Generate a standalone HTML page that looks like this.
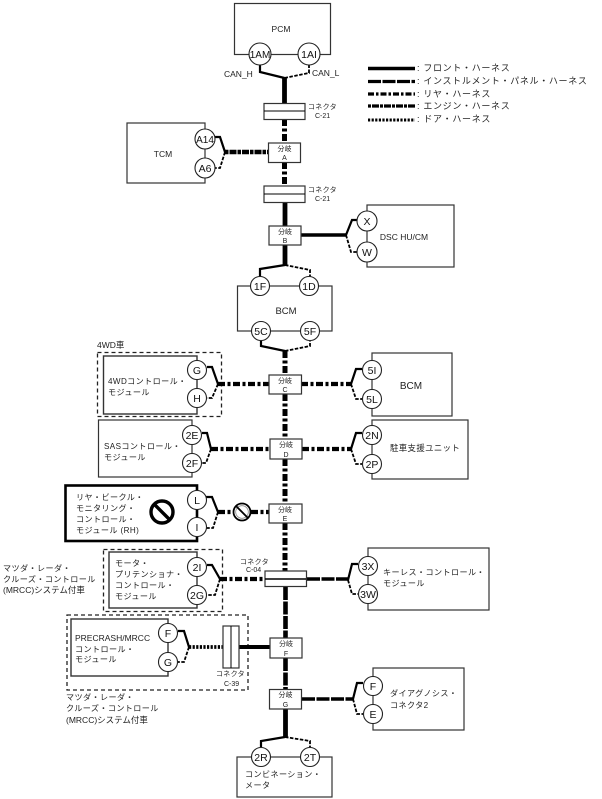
<!DOCTYPE html>
<html><head><meta charset="utf-8"><style>
html,body{margin:0;padding:0;background:#fff}
svg{display:block}
text{font-family:"Liberation Sans","Noto Sans CJK JP",sans-serif;fill:#222;font-size:8.5px}
.m{text-anchor:middle}
.s{font-size:7px}
.t{font-size:8.1px;letter-spacing:.4px}
.l{font-size:9px;letter-spacing:.67px}
.c{font-size:10.5px;text-anchor:middle;fill:#111}
rect{fill:none;stroke:#333;stroke-width:1.2}
rect.b{fill:#fff}
circle{fill:#fff;stroke:#222;stroke-width:1.1}
path,line{fill:none;stroke:#000}
.fr{stroke-width:2.2}
.da{stroke-width:1.8;stroke-dasharray:3.5 1.5}
.T{stroke-width:4.8}
.I{stroke-width:4.6;stroke-dasharray:13 1.5}
.R{stroke-width:5;stroke-dasharray:7 2.5 3 2.5}
.E{stroke-width:4.6;stroke-dasharray:3.5 1 7 1}
.D{stroke-width:3.8;stroke-dasharray:2.2 1.4}
.dash{stroke:#222;stroke-width:1.3;stroke-dasharray:4 3;fill:none}
</style></head><body>
<svg width="602" height="799" viewBox="0 0 602 799" xmlns="http://www.w3.org/2000/svg">
<!-- boxes -->
<rect x="234.5" y="3.5" width="96" height="51"/>
<rect x="127" y="123" width="78" height="60"/>
<rect x="367" y="205" width="87" height="62"/>
<rect x="237.5" y="286" width="94.5" height="45"/>
<rect class="dash" x="97.5" y="352.5" width="124" height="64"/>
<rect x="103.5" y="356" width="93.5" height="58" style="stroke-width:1.4"/>
<rect x="372" y="353" width="80" height="63"/>
<rect x="98.5" y="420" width="93.5" height="57"/>
<rect x="372" y="420" width="96" height="59"/>
<rect x="65.5" y="485.5" width="131.5" height="55.5" style="stroke:#000;stroke-width:2.6"/>
<rect class="dash" x="103.5" y="549.5" width="119" height="62"/>
<rect x="109" y="552" width="88" height="56" style="stroke-width:1.4"/>
<rect x="368" y="548" width="121" height="62"/>
<rect class="dash" x="67" y="615" width="181" height="75"/>
<rect x="71" y="619" width="97" height="57" style="stroke-width:1.4"/>
<rect x="373" y="668" width="91" height="62"/>
<rect x="237" y="757" width="95" height="40"/>

<!-- trunk -->
<line class="T" x1="284.5" y1="78" x2="284.5" y2="103"/>
<line class="R" x1="284.5" y1="119" x2="284.5" y2="143"/>
<line class="R" x1="284.5" y1="162" x2="284.5" y2="186"/>
<line class="T" x1="285" y1="202" x2="285" y2="226"/>
<line class="T" x1="285" y1="245" x2="285" y2="265"/>
<line class="R" x1="285" y1="351" x2="285" y2="375"/>
<line class="R" x1="285" y1="394" x2="285" y2="439"/>
<line class="R" x1="285" y1="459" x2="285" y2="504"/>
<line class="R" x1="285" y1="523" x2="285" y2="571"/>
<line class="I" x1="285.5" y1="587" x2="285.5" y2="638"/>
<line class="I" x1="285.5" y1="658" x2="285.5" y2="689"/>
<line class="T" x1="285.5" y1="709" x2="285.5" y2="737"/>

<!-- horizontals -->
<line class="E" x1="225" y1="152" x2="268" y2="152"/>
<line class="T" x1="301" y1="235" x2="346" y2="235" style="stroke-width:3.4"/>
<line class="R" x1="218" y1="384" x2="269" y2="384" style="stroke-width:4.2"/>
<line class="R" x1="301" y1="384" x2="351" y2="384" style="stroke-width:4.2"/>
<line class="R" x1="211" y1="449" x2="270" y2="449" style="stroke-width:4.2"/>
<line class="R" x1="302" y1="449" x2="351" y2="449" style="stroke-width:4.2"/>
<line class="R" x1="218" y1="512" x2="233" y2="512" style="stroke-width:4.2"/>
<line class="R" x1="251" y1="512" x2="269" y2="512" style="stroke-width:4.2"/>
<line class="R" x1="220" y1="579" x2="265" y2="579" style="stroke-width:4.2"/>
<line class="I" x1="307" y1="579" x2="348" y2="579" style="stroke-width:3.6"/>
<line class="D" x1="189" y1="647" x2="223" y2="647"/>
<line class="T" x1="239" y1="647" x2="270" y2="647" style="stroke-width:4"/>
<line class="I" x1="302" y1="699" x2="353" y2="699" style="stroke-width:3.6"/>

<!-- forks: solid + dashed -->
<path class="fr" d="M260 65V72L284.5 78"/><path class="da" d="M284.5 78L309 73V65"/>
<path class="fr" d="M215 137H220L225 152"/><path class="da" d="M225 152L220 168H215"/>
<path class="fr" d="M357 220H352L346 235"/><path class="da" d="M346 235L351 252H357"/>
<path class="fr" d="M285 265L260 269V277"/><path class="da" d="M285 265L310 270V277"/>
<path class="fr" d="M261 341V346L285 351"/><path class="da" d="M285 351L310 346V341"/>
<path class="fr" d="M207 367H212L218 384"/><path class="da" d="M218 384L212 398H207"/>
<path class="fr" d="M202 433H207L211 449"/><path class="da" d="M211 449L206 463H202"/>
<path class="fr" d="M362 369H356L351 384"/><path class="da" d="M351 384L356 399H362"/>
<path class="fr" d="M362 433H356L351 449"/><path class="da" d="M351 449L356 464H362"/>
<path class="fr" d="M206 497H212L218 512"/><path class="da" d="M218 512L213 528H206"/>
<path class="fr" d="M207 565H212L220 579"/><path class="da" d="M220 579L215 595H207"/>
<path class="fr" d="M358 564H352L348 580"/><path class="da" d="M348 580L352 594H358"/>
<path class="fr" d="M178 631H184L189 647"/><path class="da" d="M189 647L184 662H178"/>
<path class="fr" d="M363 683H357L353 699"/><path class="da" d="M353 699L357 714H363"/>
<path class="fr" d="M285 737L261 741V747"/><path class="da" d="M285 737L310 741V747"/>

<!-- connectors / branches -->
<rect class="b" x="264" y="103.5" width="41" height="16"/><line x1="264" y1="111" x2="305" y2="111" stroke-width="1"/>
<rect class="b" x="264" y="186" width="41" height="16.5"/><line x1="264" y1="194" x2="305" y2="194" stroke-width="1"/>
<rect class="b" x="265" y="571" width="41.5" height="15.5"/><line x1="265" y1="579" x2="306" y2="579" stroke-width="1.4"/>
<rect class="b" x="223" y="626" width="16" height="42"/><line x1="231" y1="626" x2="231" y2="668" stroke-width="1"/>
<rect class="b" x="268.5" y="143" width="32" height="19.5"/>
<rect class="b" x="269" y="226" width="32" height="19"/>
<rect class="b" x="269" y="375" width="32.5" height="19"/>
<rect class="b" x="270" y="439" width="32" height="20"/>
<rect class="b" x="269" y="504" width="33" height="19"/>
<rect class="b" x="270" y="638" width="32" height="20"/>
<rect class="b" x="269.5" y="689.5" width="32" height="19.5"/>

<!-- circles -->
<circle cx="260" cy="54" r="11"/><circle cx="309" cy="54" r="11"/>
<circle cx="205" cy="139" r="10"/><circle cx="205" cy="168" r="10"/>
<circle cx="367" cy="221" r="10"/><circle cx="367" cy="252" r="10"/>
<circle cx="260" cy="286" r="9.5"/><circle cx="309" cy="286" r="9.5"/>
<circle cx="261" cy="331" r="9.5"/><circle cx="310" cy="331" r="9.5"/>
<circle cx="197" cy="370" r="9.5"/><circle cx="197" cy="398" r="9.5"/>
<circle cx="372" cy="370" r="9.5"/><circle cx="372" cy="399" r="9.5"/>
<circle cx="192" cy="435" r="9.5"/><circle cx="192" cy="463" r="9.5"/>
<circle cx="372" cy="435" r="9.5"/><circle cx="372" cy="464" r="9.5"/>
<circle cx="197" cy="500" r="9.5"/><circle cx="197" cy="527" r="9.5"/>
<circle cx="197" cy="567" r="9.5"/><circle cx="197" cy="595" r="9.5"/>
<circle cx="368" cy="566" r="9.5"/><circle cx="368" cy="594" r="9.5"/>
<circle cx="168" cy="633" r="9.5"/><circle cx="168" cy="662" r="9.5"/>
<circle cx="373" cy="686" r="9.5"/><circle cx="373" cy="714" r="9.5"/>
<circle cx="261" cy="757" r="9.5"/><circle cx="310" cy="757" r="9.5"/>

<!-- prohibited icons -->
<circle cx="162" cy="512" r="11" style="fill:#fff;stroke:#000;stroke-width:3.4"/>
<line x1="154.5" y1="504.5" x2="169.5" y2="519.5" stroke-width="3.4"/>
<circle cx="242" cy="512" r="8.5" style="fill:#fff;stroke:#000;stroke-width:1.8"/>
<circle cx="242" cy="512" r="6.3" style="fill:#fff;stroke:#888;stroke-width:.8"/>
<line x1="236" y1="506" x2="248" y2="518" stroke-width="1.8"/>

<!-- circle labels -->
<text class="c" x="260" y="58" style="font-size:10px">1AM</text><text class="c" x="309" y="58">1AI</text>
<text class="c" x="205" y="143" style="font-size:10px">A14</text><text class="c" x="205" y="172">A6</text>
<text class="c" x="367" y="225">X</text><text class="c" x="367" y="256">W</text>
<text class="c" x="260" y="290">1F</text><text class="c" x="309" y="290">1D</text>
<text class="c" x="261" y="335">5C</text><text class="c" x="310" y="335">5F</text>
<text class="c" x="197" y="374">G</text><text class="c" x="197" y="402">H</text>
<text class="c" x="372" y="374">5I</text><text class="c" x="372" y="403">5L</text>
<text class="c" x="192" y="439">2E</text><text class="c" x="192" y="467">2F</text>
<text class="c" x="372" y="439">2N</text><text class="c" x="372" y="468">2P</text>
<text class="c" x="197" y="504">L</text><text class="c" x="197" y="531">I</text>
<text class="c" x="197" y="571">2I</text><text class="c" x="197" y="599">2G</text>
<text class="c" x="368" y="570">3X</text><text class="c" x="368" y="598">3W</text>
<text class="c" x="168" y="637">F</text><text class="c" x="168" y="666">G</text>
<text class="c" x="373" y="690">F</text><text class="c" x="373" y="718">E</text>
<text class="c" x="261" y="761">2R</text><text class="c" x="310" y="761">2T</text>

<!-- box labels -->
<text class="m" x="281" y="32">PCM</text>
<text x="224" y="77">CAN_H</text><text x="312" y="76">CAN_L</text>
<text class="m" x="163" y="157">TCM</text>
<text class="m" x="404" y="240">DSC HU/CM</text>
<text class="m" x="286" y="314" style="font-size:9.5px">BCM</text>
<text class="m" x="411" y="389" style="font-size:10px">BCM</text>
<text class="t" x="390" y="451" style="font-size:8.4px">駐車支援ユニット</text>
<text x="97" y="348">4WD車</text>
<text class="t" x="108" y="384">4WDコントロール・</text><text class="t" x="108" y="395">モジュール</text>
<text class="t" x="104" y="449">SASコントロール・</text><text class="t" x="104" y="460">モジュール</text>
<text class="t" x="76" y="500">リヤ・ビークル・</text><text class="t" x="76" y="511">モニタリング・</text><text class="t" x="76" y="522">コントロール・</text><text class="t" x="76" y="533">モジュール (RH)</text>
<text class="t" x="115" y="566">モータ・</text><text class="t" x="115" y="577">プリテンショナ・</text><text class="t" x="115" y="588">コントロール・</text><text class="t" x="115" y="599">モジュール</text>
<text class="t" x="3" y="571">マツダ・レーダ・</text><text class="t" x="3" y="582">クルーズ・コントロール</text><text x="3" y="593">(MRCC)システム付車</text>
<text class="t" x="383" y="575">キーレス・コントロール・</text><text class="t" x="383" y="586">モジュール</text>
<text x="75" y="641">PRECRASH/MRCC</text><text class="t" x="75" y="652">コントロール・</text><text class="t" x="75" y="662">モジュール</text>
<text class="t" x="66" y="700">マツダ・レーダ・</text><text class="t" x="66" y="711">クルーズ・コントロール</text><text x="66" y="723">(MRCC)システム付車</text>
<text class="t" x="390" y="696">ダイアグノシス・</text><text class="t" x="390" y="708">コネクタ2</text>
<text class="t" x="245" y="777">コンビネーション・</text><text class="t" x="245" y="788">メータ</text>

<!-- connector labels -->
<text class="s" x="308" y="109" style="letter-spacing:.3px">コネクタ</text><text class="s" x="315" y="118">C-21</text>
<text class="s" x="308" y="192" style="letter-spacing:.3px">コネクタ</text><text class="s" x="315" y="201">C-21</text>
<text class="s" x="240" y="564" style="letter-spacing:.3px">コネクタ</text><text class="s" x="246" y="572">C-04</text>
<text class="s" x="216" y="676" style="letter-spacing:.3px">コネクタ</text><text class="s" x="224" y="686">C-39</text>

<!-- branch labels -->
<text class="s m" x="284.5" y="151">分岐</text><text class="s m" x="284.5" y="160">A</text>
<text class="s m" x="285" y="234">分岐</text><text class="s m" x="285" y="243">B</text>
<text class="s m" x="285" y="383">分岐</text><text class="s m" x="285" y="392">C</text>
<text class="s m" x="286" y="447">分岐</text><text class="s m" x="286" y="457">D</text>
<text class="s m" x="285" y="512">分岐</text><text class="s m" x="285" y="521">E</text>
<text class="s m" x="286" y="646">分岐</text><text class="s m" x="286" y="656">F</text>
<text class="s m" x="285.5" y="697">分岐</text><text class="s m" x="285.5" y="707">G</text>

<!-- legend -->
<line x1="368" y1="68.5" x2="415" y2="68.5" stroke-width="3.4"/>
<line x1="368" y1="81.5" x2="415" y2="81.5" stroke-width="3.2" stroke-dasharray="13 1.5"/>
<line x1="368" y1="94" x2="415" y2="94" stroke-width="3.2" stroke-dasharray="6 2 2.5 2"/>
<line x1="368" y1="106" x2="415" y2="106" stroke-width="3.2" stroke-dasharray="3 1 7 1"/>
<line x1="368" y1="120" x2="415" y2="120" stroke-width="3" stroke-dasharray="2.2 1.4"/>
<text class="l" x="417" y="71">: フロント・ハーネス</text>
<text class="l" x="417" y="84">: インストルメント・パネル・ハーネス</text>
<text class="l" x="417" y="97">: リヤ・ハーネス</text>
<text class="l" x="417" y="109">: エンジン・ハーネス</text>
<text class="l" x="417" y="122">: ドア・ハーネス</text>
</svg>
</body></html>
